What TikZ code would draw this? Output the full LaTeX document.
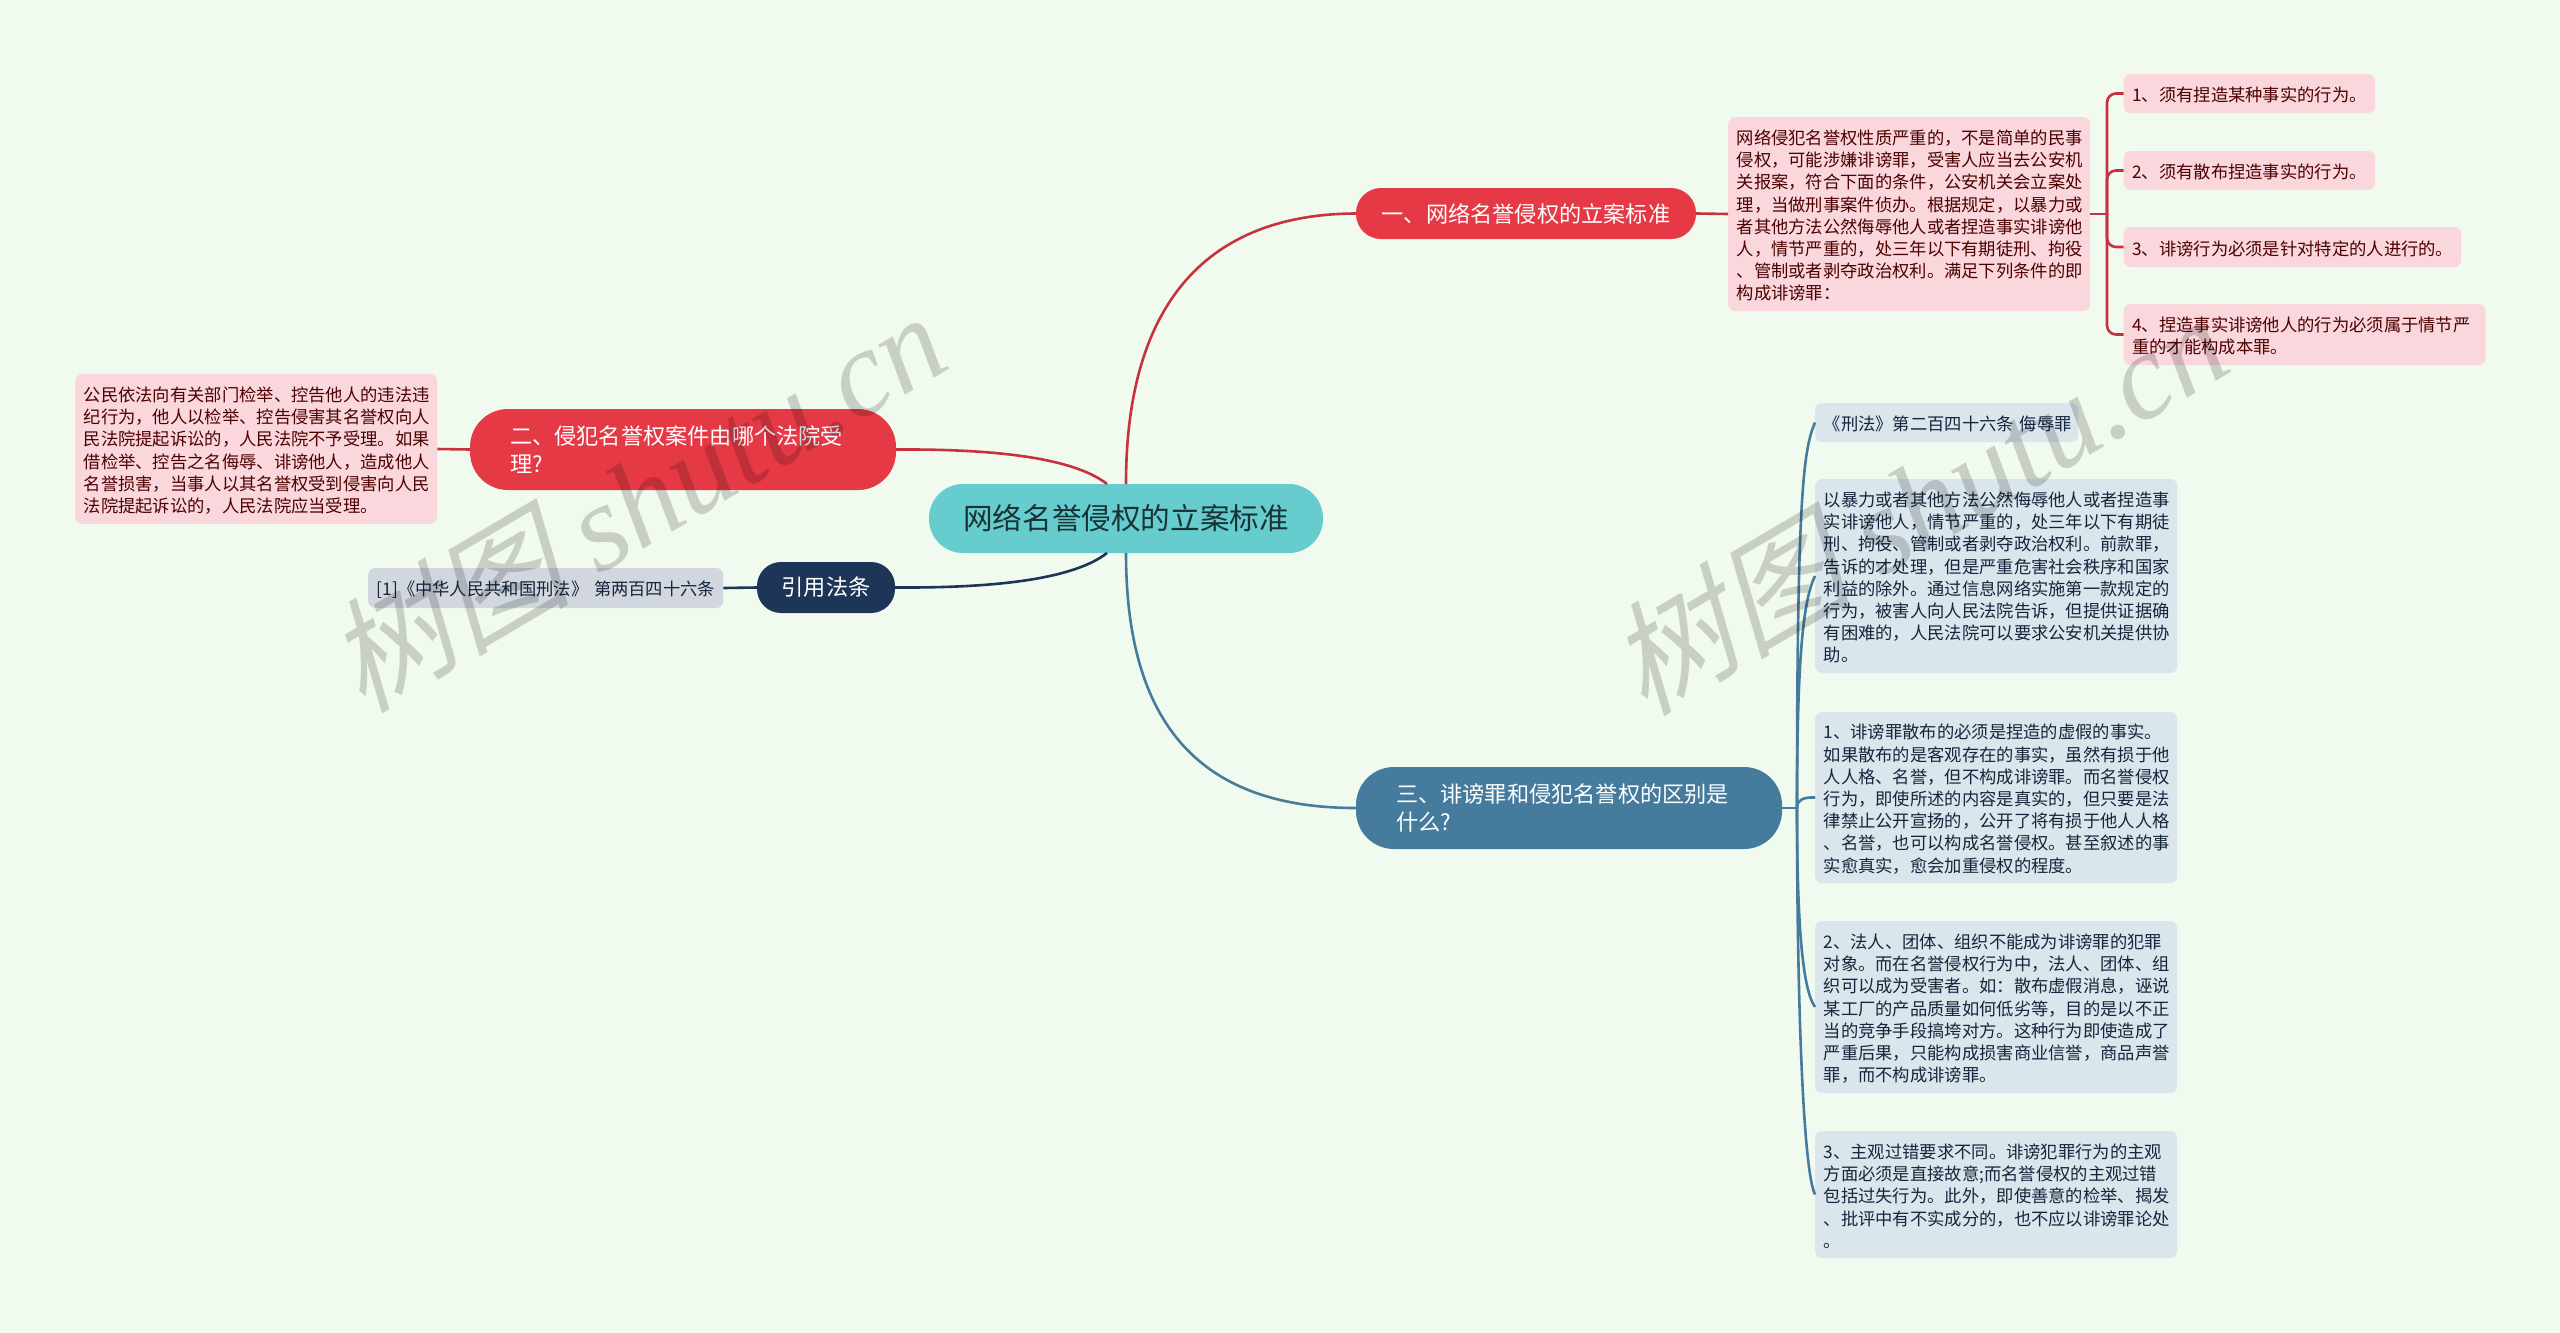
\documentclass[tikz,border=0pt]{standalone}
\usepackage{fontspec}
\setmainfont{Noto Sans CJK SC}
\newfontfamily\marksf[FakeSlant=0.25]{Noto Sans CJK SC}
\newfontfamily\markrm{Liberation Serif}
\definecolor{pagecol}{HTML}{F1FAEE}
\definecolor{maincol}{HTML}{66CCCE}
\definecolor{redcol}{HTML}{E63946}
\definecolor{redline}{HTML}{C8323F}
\definecolor{bluecol}{HTML}{457B9D}
\definecolor{navycol}{HTML}{1D3557}
\definecolor{pinkbox}{HTML}{FAD7DC}
\definecolor{paleblue}{HTML}{DAE5EC}
\definecolor{palegrey}{HTML}{D2D7DF}
\tikzset{
  topic/.style={align=left,inner xsep=0pt,inner ysep=0pt,text=white,
    font=\fontsize{22.2}{28.4}\selectfont},
  leaf/.style={anchor=west,align=left,inner xsep=8.5pt,inner ysep=0pt,
    execute at begin node={\rule{0pt}{18pt}},
    rounded corners=7pt,font=\fontsize{17.3}{22.2}\selectfont},
  redleaf/.style={leaf,fill=pinkbox,text=red!30!black},
  blueleaf/.style={leaf,fill=paleblue,text=navycol!70!black},
  greyleaf/.style={leaf,fill=palegrey,text=navycol!70!black},
  wire/.style={line width=2.6pt},
  stamp/.style={rotate=30.5,text=black,opacity=0.17,font=\fontsize{123}{123}\selectfont}
}
\begin{document}
\begin{tikzpicture}[x=1pt,y=-1pt]
\useasboundingbox (0,0) rectangle (2560,1333);
\fill[pagecol] (0,0) rectangle (2560,1333);
\coordinate (upleft) at (1107,484);
\coordinate (downleft) at (1107,553);
\coordinate (redtrunk) at (2107,214);
\coordinate (bluetrunk) at (1797,808);
\node[topic,fill=maincol,text=maincol!25!black,rounded corners=34pt,minimum width=394pt,minimum height=69pt,align=center,
  font=\fontsize{29.6}{34}\selectfont] (main) at (1126,518.5) {网络名誉侵权的立案标准};
\node[topic,fill=redcol,rounded corners=25pt,minimum width=340pt,minimum height=51pt,align=center] (one) at (1526,213.5) {一、网络名誉侵权的立案标准};
\node[topic,fill=redcol,rounded corners=38pt,minimum height=81pt,text width=346pt,inner xsep=40pt] (two) at (683,449.5) {二、侵犯名誉权案件由哪个法院受\\理?};
\node[topic,fill=bluecol,rounded corners=38pt,minimum height=82pt,text width=346pt,inner xsep=40pt] (three) at (1569,808) {三、诽谤罪和侵犯名誉权的区别是\\什么?};
\node[topic,fill=navycol,rounded corners=24pt,minimum width=138pt,minimum height=51pt,align=center] (cite) at (826,587.5) {引用法条};
\node[redleaf,minimum height=194pt,text width=345pt] (detail) at (1728,214) {网络侵犯名誉权性质严重的，不是简单的民事\\侵权，可能涉嫌诽谤罪，受害人应当去公安机\\关报案，符合下面的条件，公安机关会立案处\\理，当做刑事案件侦办。根据规定，以暴力或\\者其他方法公然侮辱他人或者捏造事实诽谤他\\人，情节严重的，处三年以下有期徒刑、拘役\\、管制或者剥夺政治权利。满足下列条件的即\\构成诽谤罪：};
\node[redleaf,minimum height=150pt,text width=345pt] (court) at (75,449) {公民依法向有关部门检举、控告他人的违法违\\纪行为，他人以检举、控告侵害其名誉权向人\\民法院提起诉讼的，人民法院不予受理。如果\\借检举、控告之名侮辱、诽谤他人，造成他人\\名誉损害，当事人以其名誉权受到侵害向人民\\法院提起诉讼的，人民法院应当受理。};
\node[greyleaf,minimum height=40pt,text width=338pt] (law) at (368,588) {[1]《中华人民共和国刑法》~第两百四十六条};
\foreach \n/\x/\y/\w/\h/\t in {
  ra/2123.5/93.5/234.5/39/1、须有捏造某种事实的行为。,
  rb/2123.5/170.5/234.5/39/2、须有散布捏造事实的行为。,
  rc/2123.5/247/320.5/40/3、诽谤行为必须是针对特定的人进行的。,
  rd/2123.5/334.5/345/61/{4、捏造事实诽谤他人的行为必须属于情节严\\重的才能构成本罪。}%
}
\node[redleaf,minimum height=\h,text width=\w] (\n) at (\x,\y) {\t};
\foreach \n/\y/\w/\h/\t in {
  ba/422.5/246/39/《刑法》第二百四十六条~侮辱罪,
  bb/576/345/194/{以暴力或者其他方法公然侮辱他人或者捏造事\\实诽谤他人，情节严重的，处三年以下有期徒\\刑、拘役、管制或者剥夺政治权利。前款罪，\\告诉的才处理，但是严重危害社会秩序和国家\\利益的除外。通过信息网络实施第一款规定的\\行为，被害人向人民法院告诉，但提供证据确\\有困难的，人民法院可以要求公安机关提供协\\助。},
  bc/797.5/345/171/{1、诽谤罪散布的必须是捏造的虚假的事实。\\如果散布的是客观存在的事实，虽然有损于他\\人人格、名誉，但不构成诽谤罪。而名誉侵权\\行为，即使所述的内容是真实的，但只要是法\\律禁止公开宣扬的，公开了将有损于他人人格\\、名誉，也可以构成名誉侵权。甚至叙述的事\\实愈真实，愈会加重侵权的程度。},
  bd/1007/345/172/{2、法人、团体、组织不能成为诽谤罪的犯罪\\对象。而在名誉侵权行为中，法人、团体、组\\织可以成为受害者。如：散布虚假消息，诬说\\某工厂的产品质量如何低劣等，目的是以不正\\当的竞争手段搞垮对方。这种行为即使造成了\\严重后果，只能构成损害商业信誉，商品声誉\\罪，而不构成诽谤罪。},
  be/1194.5/345/127/{3、主观过错要求不同。诽谤犯罪行为的主观\\方面必须是直接故意;而名誉侵权的主观过错\\包括过失行为。此外，即使善意的检举、揭发\\、批评中有不实成分的，也不应以诽谤罪论处\\。}%
}
\node[blueleaf,minimum height=\h,text width=\w] (\n) at (1815,\y) {\t};
\draw[wire,redline] (main.north) .. controls (1126,300) and (1210,214) .. (one.west);
\draw[wire,bluecol] (main.south) .. controls (1126,735) and (1210,808) .. (three.west);
\draw[wire,redline] (two.east) .. controls (980,449) and (1070,455) .. (upleft);
\draw[wire,navycol] (cite.east) .. controls (980,588) and (1070,582) .. (downleft);
\draw[wire,redline] (one.east) -- (detail.west);
\draw[wire,redline] (court.east) -- (two.west);
\draw[wire,navycol] (law.east) -- (cite.west);
\draw[wire,redline] (detail.east) -- (redtrunk);
\draw[wire,bluecol] (three.east) -- (bluetrunk);
\foreach \n in {ra,rb,rc,rd}
\draw[wire,redline,rounded corners=9pt] (redtrunk) |- (\n.west);
\foreach \n/\a/\b in {
  ba/500/450,
  bb/660/600,
  bc/800/797,
  bd/930/990,
  be/1000/1170%
}
\draw[wire,bluecol] (bluetrunk) .. controls (1797,\a) and (1803,\b) .. (\n.west);
\node[stamp] (markleft) at (635,500) {\marksf 树图 \markrm\itshape shutu.cn};
\node[stamp] (markright) at (1917,503) {\marksf 树图 \markrm\itshape shutu.cn};
\end{tikzpicture}
\end{document}
